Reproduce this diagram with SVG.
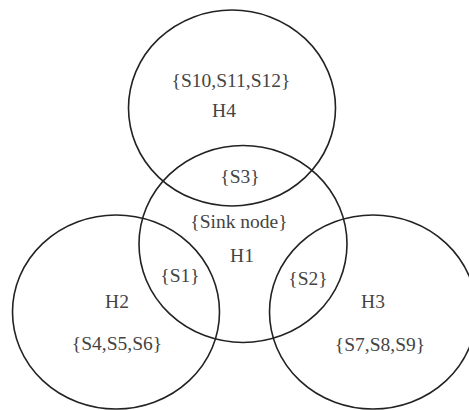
<svg xmlns="http://www.w3.org/2000/svg" width="469" height="410" viewBox="0 0 469 410">
<style>
.c{fill:none;stroke:#222;stroke-width:1.6}
.t{font-family:"Liberation Serif","Times New Roman",serif;font-size:19.5px;fill:#444;text-anchor:middle}
</style>
<rect width="469" height="410" fill="#fff"/>
<g id="H4"><ellipse class="c" cx="232" cy="108" rx="103.5" ry="98"/>
<text class="t" x="231" y="87">{S10,S11,S12}</text>
<text class="t" x="224" y="117">H4</text></g>
<g id="H1"><ellipse class="c" cx="243" cy="244" rx="104" ry="98.5"/>
<text class="t" x="240" y="183">{S3}</text>
<text class="t" x="239" y="228">{Sink node}</text>
<text class="t" x="242" y="262">H1</text>
<text class="t" x="180" y="282">{S1}</text>
<text class="t" x="308" y="285">{S2}</text></g>
<g id="H2"><ellipse class="c" cx="116" cy="312" rx="103.5" ry="97"/>
<text class="t" x="117" y="308">H2</text>
<text class="t" x="117" y="350">{S4,S5,S6}</text></g>
<g id="H3"><ellipse class="c" cx="373" cy="312" rx="103.5" ry="97"/>
<text class="t" x="373" y="308">H3</text>
<text class="t" x="380" y="351">{S7,S8,S9}</text></g>
<g id="connectors"></g>
</svg>
